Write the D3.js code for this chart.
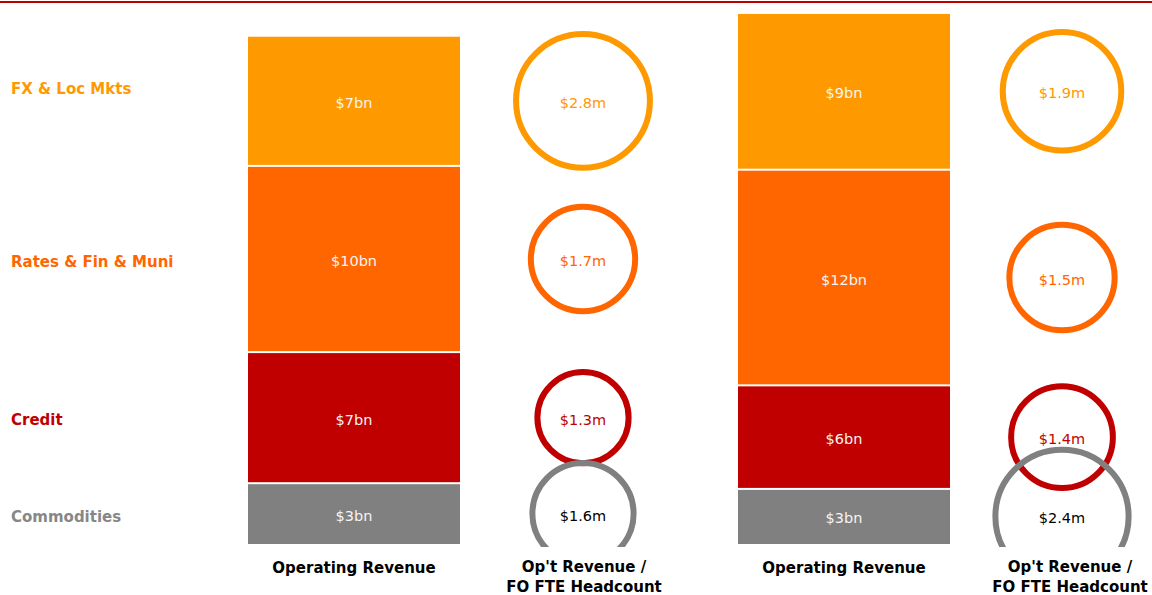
<!DOCTYPE html>
<html lang="en">
<head>
<title>Revenue by Business</title>
<meta charset="utf-8">
<script src="https://d3js.org/d3.v7.min.js"></script>
<style>
	body { margin: 0; background: #fff; }
	text { font-family: "DejaVu Sans", Verdana, sans-serif; }
</style>
</head>
<body>
<div id="chart"></div>

<script type="text/javascript">
	// data (bn for revenue, m for revenue per head)
	var categories = ['FX & Loc Mkts', 'Rates & Fin & Muni', 'Credit', 'Commodities'];

	var revenue_a = [6.85, 9.8, 6.9, 3.2],
		revenue_labels_a = ['$7bn', '$10bn', '$7bn', '$3bn'],
		per_head_a = [2.8, 1.7, 1.3, 1.6];

	var revenue_b = [8.25, 11.35, 5.45, 2.9],
		revenue_labels_b = ['$9bn', '$12bn', '$6bn', '$3bn'],
		per_head_b = [1.9, 1.5, 1.4, 2.4];

	var bar_title = ['Operating Revenue'],
		circle_title = ["Op't Revenue /", 'FO FTE Headcount'];

	var colors = ['#FF9900', '#FF6600', '#C00000', '#808080'],
		label_colors = ['#FF9900', '#FF6600', '#C00000', '#878787'],
		circle_text_colors = ['#FF9900', '#FF6600', '#C00000', '#000000'];

	var width = 1152, height = 595;

	var svg = d3.select('#chart')
		.append('svg')
		.attr('width', width)
		.attr('height', height);

	svg.append('defs').append('clipPath')
		.attr('id', 'clip')
		.append('rect')
		.attr('x', 0).attr('y', 0)
		.attr('width', width).attr('height', 547);

	// top rule
	svg.append('line')
		.attr('x1', 0).attr('x2', width)
		.attr('y1', 2).attr('y2', 2)
		.style('stroke', '#C00000')
		.style('stroke-width', 2);

	var y = d3.scaleLinear()
		.domain([0, 28])
		.range([544, 12]);

	var panels = [
		{bar_x: 248, circle_x: 583, title_x: 584, values: revenue_a, labels: revenue_labels_a, heads: per_head_a, r_max: 40},
		{bar_x: 738, circle_x: 1062, title_x: 1070, values: revenue_b, labels: revenue_labels_b, heads: per_head_b, r_max: 43}
	];
	var bar_w = 212;

	function stack_rows(values){
		// stack from the bottom: last category sits on the axis
		var rows = [], cum = 0;
		for (var i = values.length - 1; i >= 0; i--){
			rows[i] = {i: i, v0: cum, v1: cum + values[i]};
			cum += values[i];
		}
		return rows;
	}

	panels.forEach(function(p){
		var rows = stack_rows(p.values);
		var r = d3.scaleSqrt().domain([0, 1]).range([0, p.r_max]);
		var g = svg.append('g');

		g.selectAll('rect.seg')
			.data(rows)
			.enter()
			.append('rect')
			.attr('class', 'seg')
			.attr('x', p.bar_x)
			.attr('width', bar_w)
			.attr('y', function(d){ return y(d.v1) + 1; })
			.attr('height', function(d){ return y(d.v0) - y(d.v1) - (d.v0 == 0 ? 1 : 2); })
			.style('fill', function(d){ return colors[d.i]; });

		g.selectAll('text.val')
			.data(rows)
			.enter()
			.append('text')
			.attr('x', p.bar_x + bar_w / 2)
			.attr('y', function(d){ return (y(d.v0) + y(d.v1)) / 2 + 2; })
			.attr('text-anchor', 'middle')
			.attr('dominant-baseline', 'central')
			.style('font-size', '14.5px')
			.style('fill', '#F4F4F4')
			.text(function(d){ return p.labels[d.i]; });

		var cg = g.append('g').attr('clip-path', 'url(#clip)');
		cg.selectAll('circle')
			.data(rows)
			.enter()
			.append('circle')
			.attr('cx', p.circle_x)
			.attr('cy', function(d){ return (y(d.v0) + y(d.v1)) / 2; })
			.attr('r', function(d){ return r(p.heads[d.i]); })
			.style('fill', 'none')
			.style('stroke', function(d){ return colors[d.i]; })
			.style('stroke-width', 6);

		g.selectAll('text.head')
			.data(rows)
			.enter()
			.append('text')
			.attr('x', p.circle_x)
			.attr('y', function(d){ return (y(d.v0) + y(d.v1)) / 2 + 2; })
			.attr('text-anchor', 'middle')
			.attr('dominant-baseline', 'central')
			.style('font-size', '14.5px')
			.style('fill', function(d){ return circle_text_colors[d.i]; })
			.text(function(d){ return '$' + d3.format('.1f')(p.heads[d.i]) + 'm'; });

		// column titles
		g.append('text')
			.attr('x', p.bar_x + bar_w / 2)
			.attr('y', 573)
			.attr('text-anchor', 'middle')
			.style('font-size', '15px')
			.style('font-weight', 'bold')
			.style('fill', '#000')
			.text(bar_title[0]);

		g.selectAll('text.ctitle')
			.data(circle_title)
			.enter()
			.append('text')
			.attr('x', p.title_x)
			.attr('y', function(d, i){ return 572 + i * 20; })
			.attr('text-anchor', 'middle')
			.style('font-size', '15px')
			.style('font-weight', 'bold')
			.style('fill', '#000')
			.text(function(d){ return d; });
	});

	// category labels on the left
	var label_dy = [-12, 3, 2, 3];
	var rows_a = stack_rows(revenue_a);
	svg.selectAll('text.cat')
		.data(rows_a)
		.enter()
		.append('text')
		.attr('x', 11)
		.attr('y', function(d){ return (y(d.v0) + y(d.v1)) / 2 + label_dy[d.i]; })
		.attr('dominant-baseline', 'central')
		.style('font-size', '15px')
		.style('font-weight', 'bold')
		.style('fill', function(d){ return label_colors[d.i]; })
		.text(function(d){ return categories[d.i]; });
</script>

</body>
</html>
